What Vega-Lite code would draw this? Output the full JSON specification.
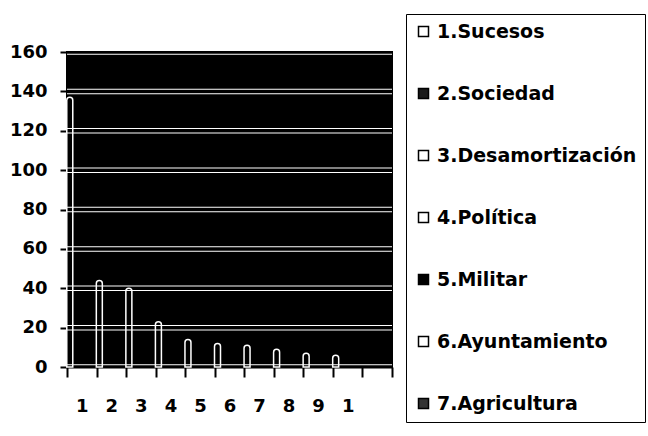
{
  "$schema": "https://vega.github.io/schema/vega-lite/v6.json",
  "autosize": {"type": "none"},
  "width": 325,
  "height": 315,
  "padding": {"left": 67, "top": 52, "right": 256, "bottom": 69},
  "background": "white",
  "view": {"fill": "black", "stroke": "black", "strokeWidth": 2},
  "config": {
    "axisY": {"title": null, "values": [0,20,40,60,80,100,120,140,160], "grid": false, "labelOverlap": false, "domainColor": "black", "domainWidth": 2, "tickColor": "black", "tickWidth": 2, "tickSize": 7, "labelPadding": 13, "labelFont": "DejaVu Sans", "labelFontWeight": "bold", "labelFontSize": 18, "labelColor": "black"}
  },
  "layer": [
    {
      "data": {"values": [{"level": 0}, {"level": 20}, {"level": 40}, {"level": 60}, {"level": 80}, {"level": 100}, {"level": 120}, {"level": 140}, {"level": 160}]},
      "mark": {"type": "rule", "color": "white", "strokeWidth": 5.5, "clip": true},
      "encoding": {"y": {"field": "level", "type": "quantitative", "scale": {"domain": [0, 160]},
        "axis": {"title": null, "values": [0,20,40,60,80,100,120,140,160], "tickCount": 9, "labelOverlap": false}}}
    },
    {
      "data": {"values": [{"level": 0}, {"level": 20}, {"level": 40}, {"level": 60}, {"level": 80}, {"level": 100}, {"level": 120}, {"level": 140}, {"level": 160}]},
      "mark": {"type": "rule", "color": "black", "strokeWidth": 3.5, "clip": true},
      "encoding": {"y": {"field": "level", "type": "quantitative",
        "axis": {"title": null, "values": [0,20,40,60,80,100,120,140,160], "tickCount": 9, "labelOverlap": false}}}
    },
    {
      "data": {"values": [
        {"cat": "1", "value": 137},
        {"cat": "2", "value": 44},
        {"cat": "3", "value": 40},
        {"cat": "4", "value": 23},
        {"cat": "5", "value": 14},
        {"cat": "6", "value": 12},
        {"cat": "7", "value": 11},
        {"cat": "8", "value": 9},
        {"cat": "9", "value": 7},
        {"cat": "10", "value": 6}
      ]},
      "mark": {"type": "bar", "width": 6, "xOffset": -12, "fill": "black", "stroke": "white", "strokeWidth": 1.5, "cornerRadiusTopLeft": 3, "cornerRadiusTopRight": 3, "clip": true},
      "encoding": {
        "x": {"field": "cat", "type": "ordinal", "sort": null,
          "scale": {"domain": ["1","2","3","4","5","6","7","8","9","10","11"], "paddingInner": 0, "paddingOuter": 0},
          "axis": {"title": null, "labelAngle": 0, "tickBand": "extent", "domainColor": "black", "domainWidth": 2, "tickColor": "black", "tickWidth": 2, "tickSize": 10, "labelPadding": 20, "labelFont": "DejaVu Sans", "labelFontWeight": "bold", "labelFontSize": 18, "labelColor": "black", "labelOverlap": false,
            "labelExpr": "datum.label == '10' ? '1' : (datum.label == '11' ? '' : datum.label)"}},
        "y": {"field": "value", "type": "quantitative",
          "axis": {"title": null, "values": [0,20,40,60,80,100,120,140,160], "tickCount": 9, "labelOverlap": false}}
      }
    },
    {
      "data": {"values": [
        {"tema": "1.Sucesos"},
        {"tema": "2.Sociedad"},
        {"tema": "3.Desamortización"},
        {"tema": "4.Política"},
        {"tema": "5.Militar"},
        {"tema": "6.Ayuntamiento"},
        {"tema": "7.Agricultura"}
      ]},
      "mark": {"type": "point", "filled": true, "shape": "square", "opacity": 0},
      "encoding": {
        "color": {"field": "tema", "type": "nominal",
          "scale": {"domain": ["1.Sucesos","2.Sociedad","3.Desamortización","4.Política","5.Militar","6.Ayuntamiento","7.Agricultura"],
                    "range": ["white","#1a1a1a","white","white","black","white","#333333"]},
          "legend": {"title": null, "orient": "none", "legendX": 339, "legendY": -38, "strokeColor": "black", "padding": 8,
            "symbolType": "square", "symbolSize": 100, "symbolStrokeColor": "black", "symbolStrokeWidth": 1.5, "symbolOpacity": 1,
            "labelFont": "DejaVu Sans", "labelFontWeight": "bold", "labelFontSize": 19, "labelColor": "black", "labelOffset": 4,
            "rowPadding": 42, "labelLimit": 400}}
      }
    }
  ]
}
